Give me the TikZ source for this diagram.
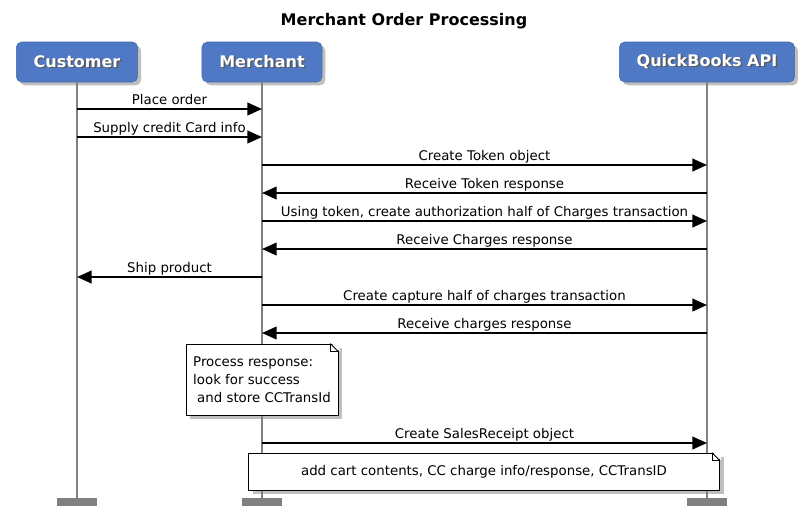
\documentclass[tikz,border=0pt]{standalone}
\usepackage{fontspec}
\setmainfont{DejaVu Sans}
\usetikzlibrary{arrows.meta,shadows,positioning}

\definecolor{actorblue}{RGB}{79,121,196}
\definecolor{lifegray}{RGB}{128,128,128}

% white label with a dark offset copy underneath
\newcommand{\shadowtext}[1]{\rlap{\hspace{1.2pt}\raisebox{-1.2pt}{\textcolor{black!65}{#1}}}#1}
% folded corner on a note node
\newcommand{\dogear}[1]{%
  \fill[white] ([xshift=-6pt,yshift=1pt]#1.north east) -- ([xshift=1pt,yshift=1pt]#1.north east)
    -- ([xshift=1pt,yshift=-6pt]#1.north east) -- cycle;
  \draw[line width=0.6pt] ([xshift=-6pt]#1.north east) -- ([yshift=-6pt]#1.north east);
  \draw[line width=0.5pt] ([xshift=-6pt]#1.north east) |- ([yshift=-6pt]#1.north east);}

\begin{document}
\begin{tikzpicture}[x=0.75pt,y=-0.75pt,>={Triangle[length=11pt,width=9.5pt]},
  actor/.style={rectangle,rounded corners=4pt,fill=actorblue,draw=actorblue!85!black,line width=0.4pt,
    minimum height=30pt,inner xsep=13pt,text=white,font=\fontsize{12}{14}\selectfont\bfseries,
    drop shadow={shadow xshift=2.5pt,shadow yshift=-2.5pt,opacity=0.5}},
  msg/.style={->,line width=1.5pt},
  msglabel/.style={anchor=south,inner xsep=0pt,inner ysep=3.1pt,text depth=0pt,
    font=\fontsize{10}{12}\selectfont},
  lifeline/.style={draw=lifegray,line width=1.5pt},
  endbar/.style={rectangle,fill=lifegray,minimum width=30pt,minimum height=6pt,inner sep=0pt},
  note/.style={rectangle,fill=white,draw,line width=0.6pt,font=\fontsize{10}{13.5}\selectfont,
    drop shadow={shadow xshift=3pt,shadow yshift=-3pt,opacity=0.5}}]

  \useasboundingbox (0,0) rectangle (807,515);

  \node[font=\fontsize{12}{14}\selectfont\bfseries] (title) at (404,21) {Merchant Order Processing};

  \node[actor] (cust) at (77,62) {\shadowtext{Customer}};
  \node[actor] (merch) at (262,62) {\shadowtext{Merchant}};
  \node[actor] (qb) at (707,62) {\shadowtext{QuickBooks API}};

  \node[endbar] (custbar) at (77,502) {};
  \node[endbar] (merchbar) at (262,502) {};
  \node[endbar] (qbbar) at (707,502) {};

  \draw[lifeline] (cust) -- (custbar);
  \draw[lifeline] (merch) -- (merchbar);
  \draw[lifeline] (qb) -- (qbbar);

  % messages
  \node[msglabel] (l1) at (169.5,109) {Place order};
  \draw[msg] (cust |- l1.south) -- (merch |- l1.south);
  \node[msglabel] (l2) at (169.5,137) {Supply credit Card info};
  \draw[msg] (cust |- l2.south) -- (merch |- l2.south);
  \node[msglabel] (l3) at (484.5,165) {Create Token object};
  \draw[msg] (merch |- l3.south) -- (qb |- l3.south);
  \node[msglabel] (l4) at (484.5,193) {Receive Token response};
  \draw[msg] (qb |- l4.south) -- (merch |- l4.south);
  \node[msglabel] (l5) at (484.5,221) {Using token, create authorization half of Charges transaction};
  \draw[msg] (merch |- l5.south) -- (qb |- l5.south);
  \node[msglabel] (l6) at (484.5,249) {Receive Charges response};
  \draw[msg] (qb |- l6.south) -- (merch |- l6.south);
  \node[msglabel] (l7) at (169.5,277) {Ship product};
  \draw[msg] (merch |- l7.south) -- (cust |- l7.south);
  \node[msglabel] (l8) at (484.5,305) {Create capture half of charges transaction};
  \draw[msg] (merch |- l8.south) -- (qb |- l8.south);
  \node[msglabel] (l9) at (484.5,333) {Receive charges response};
  \draw[msg] (qb |- l9.south) -- (merch |- l9.south);

  \node[note,align=left,inner xsep=5.4pt,minimum height=53.25pt] (n1) at (262,379.5)
    {Process response:\\look for success\\\hspace{3pt}and store CCTransId};
  \dogear{n1}

  \node[msglabel] (l10) at (484.5,443) {Create SalesReceipt object};
  \draw[msg] (merch |- l10.south) -- (qb |- l10.south);

  \node[note,minimum width=353.25pt,minimum height=27.75pt] (n2) at (484,471.5)
    {add cart contents, CC charge info/response, CCTransID};
  \dogear{n2}
\end{tikzpicture}
\end{document}
